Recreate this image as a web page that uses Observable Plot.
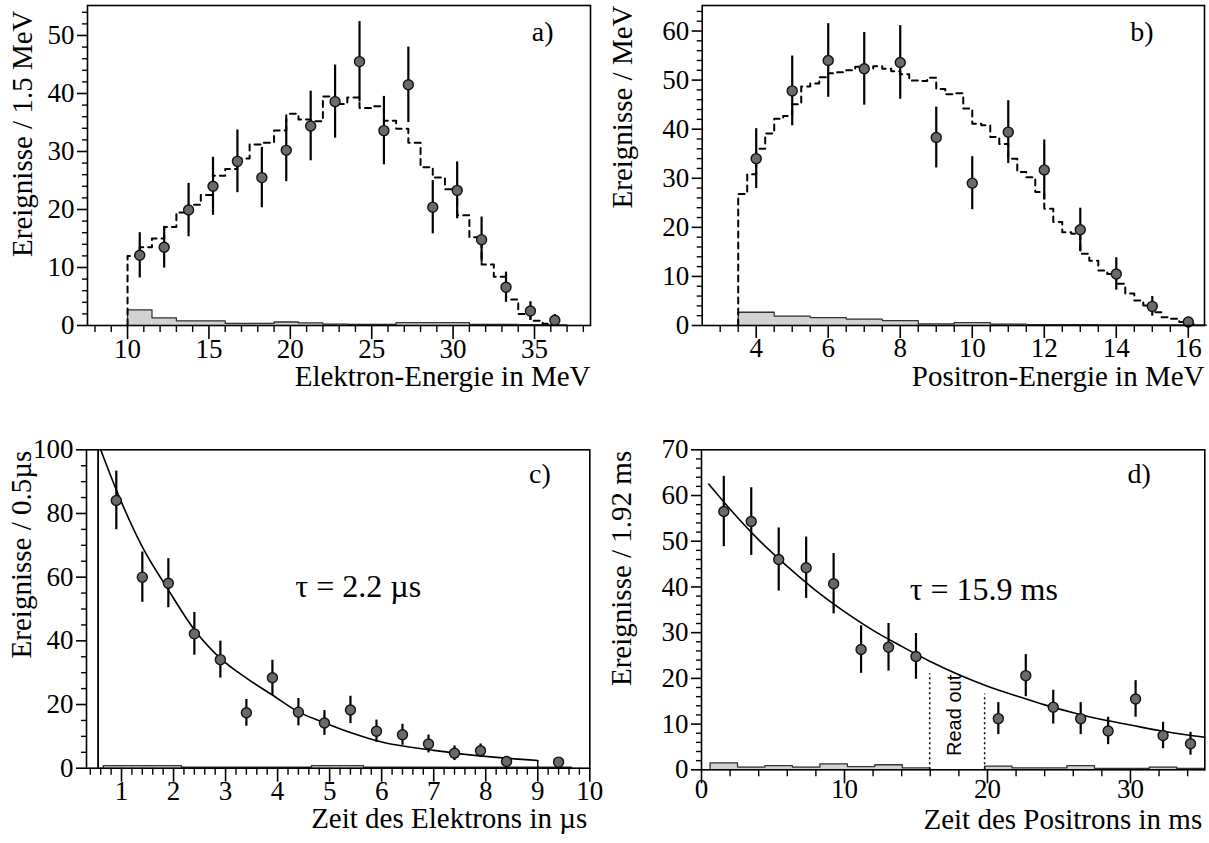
<!DOCTYPE html>
<html><head><meta charset="utf-8">
<script src="https://cdn.jsdelivr.net/npm/d3@7"></script>
<script src="https://cdn.jsdelivr.net/npm/@observablehq/plot@0.6"></script>
<style>
html,body{margin:0;padding:0;background:#fff;}
#root{position:relative;width:1209px;height:843px;overflow:hidden;background:#fff;}
#root svg{position:absolute;}
</style></head><body><div id="root"></div>
<script>
// ---------- Panel a: electron energy ----------
const aX = [10.75, 12.25, 13.75, 15.25, 16.75, 18.25, 19.75, 21.25, 22.75, 24.25, 25.75, 27.25, 28.75, 30.25, 31.75, 33.25, 34.75, 36.25];
const aY = [12.1, 13.5, 19.9, 24.0, 28.3, 25.5, 30.2, 34.4, 38.6, 45.5, 33.6, 41.5, 20.4, 23.3, 14.8, 6.6, 2.5, 0.9];
const aErr = [3.9, 3.6, 4.6, 5.0, 5.4, 5.2, 5.4, 6.0, 6.3, 6.9, 5.9, 6.5, 4.6, 4.9, 3.9, 2.6, 1.6, 1.0];
const aMcEdges = [10, 10.75, 11.5, 12.25, 13, 13.75, 14.5, 15.25, 16, 16.75, 17.5, 18.25, 19, 19.75, 20.5, 21.25, 22, 22.75, 23.5, 24.25, 25, 25.75, 26.5, 27.25, 28, 28.75, 29.5, 30.25, 31, 31.75, 32.5, 33.25, 34, 34.75, 35.5, 36.25];
const aMcVals = [12.0, 13.5, 15.0, 17.0, 19.5, 20.8, 22.5, 25.8, 27.0, 28.8, 31.2, 31.5, 33.6, 36.5, 35.5, 35.2, 39.5, 38.2, 39.3, 37.5, 37.8, 35.3, 33.9, 31.5, 27.3, 25.5, 23.5, 19.0, 15.2, 10.5, 8.4, 4.5, 2.0, 0.8, 0.3];
const aBkgEdges = [10, 11.5, 13, 14.5, 16, 17.5, 19, 20.5, 22, 23.5, 25, 26.5, 28, 29.5, 31, 32.5, 34, 35.5, 37];
const aBkgVals = [2.7, 1.3, 0.8, 0.8, 0.35, 0.35, 0.6, 0.45, 0.25, 0.2, 0.2, 0.5, 0.5, 0.5, 0.2, 0.2, 0.15, 0.1];
const aXTicks = [10, 15, 20, 25, 30, 35];
const aYTicks = [0, 10, 20, 30, 40, 50];

// ---------- Panel b: positron energy ----------
const bX = [4, 5, 6, 7, 8, 9, 10, 11, 12, 13, 14, 15, 16];
const bY = [34.0, 47.8, 54.0, 52.3, 53.6, 38.3, 29.0, 39.4, 31.7, 19.5, 10.5, 3.9, 0.7];
const bErr = [6.1, 7.1, 7.5, 7.4, 7.5, 6.2, 5.4, 6.4, 6.1, 4.4, 3.3, 2.0, 1.0];
const bMcEdges = [3.5, 3.75, 4, 4.25, 4.5, 4.75, 5, 5.25, 5.5, 5.75, 6, 6.25, 6.5, 6.75, 7, 7.25, 7.5, 7.75, 8, 8.25, 8.5, 8.75, 9, 9.25, 9.5, 9.75, 10, 10.25, 10.5, 10.75, 11, 11.25, 11.5, 11.75, 12, 12.25, 12.5, 12.75, 13, 13.25, 13.5, 13.75, 14, 14.25, 14.5, 14.75, 15, 15.25, 15.5, 15.75, 16, 16.25];
const bMcVals = [26.8, 30.8, 36.0, 39.1, 42.1, 42.7, 45.1, 48.7, 49.3, 50.6, 51.4, 51.6, 52.0, 52.7, 52.3, 52.8, 52.3, 51.8, 51.2, 49.9, 49.8, 50.5, 48.2, 47.1, 47.3, 44.2, 41.1, 40.8, 38.4, 37.0, 34.0, 31.3, 30.2, 27.2, 23.8, 21.1, 19.0, 18.7, 14.6, 13.2, 11.2, 10.5, 8.5, 6.5, 5.1, 4.1, 2.7, 1.7, 1.4, 0.7, 0.3];
const bBkgEdges = [3.5, 4.5, 5.5, 6.5, 7.5, 8.5, 9.5, 10.5, 11.5, 12.5, 13.5, 14.5, 15.5, 16.5];
const bBkgVals = [2.7, 1.9, 1.6, 1.3, 1.0, 0.35, 0.6, 0.3, 0.15, 0.15, 0.1, 0.1, 0.1];
const bXTicks = [4, 6, 8, 10, 12, 14, 16];
const bYTicks = [0, 10, 20, 30, 40, 50, 60];

// ---------- Panel c: electron time ----------
const cX = [0.9, 1.4, 1.9, 2.4, 2.9, 3.4, 3.9, 4.4, 4.9, 5.4, 5.9, 6.4, 6.9, 7.4, 7.9, 8.4, 9.4];
const cY = [84.1, 60.0, 58.1, 42.2, 34.1, 17.4, 28.4, 17.6, 14.2, 18.3, 11.6, 10.5, 7.6, 4.7, 5.5, 2.1, 1.9];
const cErr = [9.2, 7.9, 7.7, 6.7, 5.8, 4.2, 5.5, 4.3, 3.9, 4.3, 3.5, 3.3, 2.8, 2.3, 2.1, 1.4, 1.3];
const cFitX = [0.6, 0.9, 1.4, 1.9, 2.4, 2.9, 3.4, 3.9, 4.4, 4.9, 5.4, 6.0, 7.0, 8.0, 9.0];
const cFitY = [100, 87.4, 69.5, 56.0, 43.5, 34.5, 28.3, 23.0, 17.7, 14.3, 11.2, 8.2, 5.6, 3.7, 2.4];
const cFitEnd = [9.0];
const cCut = [0.55];
const cBkgEdges = [0.65, 2.15, 4.65, 5.65, 9.65];
const cBkgVals = [0.8, 0.3, 0.8, 0.3];
const cXTicks = [1, 2, 3, 4, 5, 6, 7, 8, 9, 10];
const cYTicks = [0, 20, 40, 60, 80, 100];
const cTau = "τ = 2.2 µs";

// ---------- Panel d: positron time ----------
const dX = [1.56, 3.48, 5.40, 7.32, 9.24, 11.16, 13.08, 15.00, 20.76, 22.68, 24.60, 26.52, 28.44, 30.36, 32.28, 34.20];
const dY = [56.5, 54.3, 46.0, 44.2, 40.7, 26.3, 26.8, 24.8, 11.2, 20.6, 13.7, 11.2, 8.5, 15.5, 7.5, 5.7];
const dErr = [7.7, 7.4, 6.9, 6.7, 6.6, 5.2, 5.2, 5.0, 3.5, 4.6, 3.7, 3.5, 3.0, 4.0, 2.9, 2.5];
const dFitX = [0.5, 2, 4, 6, 8, 10, 12, 14, 16, 18, 20, 22, 24, 26, 28, 30, 32, 34, 35.2];
const dFitY = [62.5, 57.0, 50.3, 44.5, 39.2, 34.6, 30.5, 27.0, 23.7, 20.8, 18.3, 16.2, 14.2, 12.5, 11.0, 9.8, 8.6, 7.6, 7.1];
const dBkgEdges1 = [0.6, 2.52, 4.44, 6.36, 8.28, 10.2, 12.12, 14.04, 15.96];
const dBkgVals1 = [1.5, 0.6, 0.9, 0.6, 1.3, 0.7, 1.1, 0.4];
const dBkgEdges2 = [19.8, 21.72, 23.64, 25.56, 27.48, 29.4, 31.32, 33.24, 35.16];
const dBkgVals2 = [0.8, 0.4, 0.4, 0.9, 0.3, 0.3, 0.6, 0.3];
const dReadoutX = [15.96, 19.8];
const dReadoutTop = [21, 16.6];
const dXTicks = [0, 10, 20, 30];
const dYTicks = [0, 10, 20, 30, 40, 50, 60, 70];
const dTau = "τ = 15.9 ms";
const dReadText = "Read out";

// annotation anchors (data units)
const cTauPos = [4.34, 57.1];
const dTauPos = [14.56, 39.4];
const dReadPos = [17.7, 11.9];

// ---------- helpers ----------
const STYLE = "font-family: 'Liberation Serif', 'Times New Roman', serif; font-size: 27px; color: #000; background: transparent; overflow: visible;";
const root = document.getElementById("root");
function minors(lo, hi, step, majors) {
  return d3.range(Math.round(lo / step), Math.round(hi / step) + 1)
    .map(k => +(k * step).toFixed(4))
    .filter(v => !majors.some(m => Math.abs(m - v) < 1e-6));
}
function steps(edges, vals, drop) {
  const p = [{x: edges[0], y: 0}];
  vals.forEach((v, i) => p.push({x: edges[i], y: v}));
  p.push({x: edges[vals.length], y: vals[vals.length - 1]});
  if (drop) p.push({x: edges[vals.length], y: 0});
  return p;
}
function bins(edges, vals) { return vals.map((v, i) => ({x1: edges[i], x2: edges[i + 1], y: v})); }
function pts(xs, ys, es) { return xs.map((x, i) => ({x, y: ys[i], e: es[i]})); }
function bkgMarks(edges, vals) {
  return [
    Plot.rectY(bins(edges, vals), {x1: "x1", x2: "x2", y: "y", fill: "#d2d2d2"}),
    Plot.line(steps(edges, vals, true), {x: "x", y: "y", curve: "step-after", stroke: "#333", strokeWidth: 1.3})
  ];
}
function dataMarks(data) {
  return [
    Plot.ruleX(data, {x: "x", y1: d => Math.max(0, d.y - d.e), y2: d => d.y + d.e, stroke: "#000", strokeWidth: 2.2}),
    Plot.dot(data, {x: "x", y: "y", r: 5, fill: "#6a6a6a", stroke: "#111", strokeWidth: 1.4})
  ];
}

function panel(p) {
  const marks = [
    ...p.marks,
    Plot.frame({stroke: "#000", strokeWidth: 1.6}),
    Plot.axisX({ticks: p.xMinor, tickSize: 7, tickFormat: () => "", strokeWidth: 1.4, label: null}),
    Plot.axisX({ticks: p.xMajor, tickSize: p.xMajorSize, tickPadding: p.xPad, strokeWidth: 1.6, label: null, tickFormat: d => String(d)}),
    Plot.axisY({ticks: p.yMinor, tickSize: 5, tickFormat: () => "", strokeWidth: 1.4, label: null}),
    Plot.axisY({ticks: p.yMajor, tickSize: 10, tickPadding: 3, strokeWidth: 1.6, label: null, tickFormat: d => String(d)}),
    Plot.text([p.xLabel], {text: d => d, frameAnchor: "bottom-right", textAnchor: "end", lineAnchor: "middle", dx: p.xLabelDx, dy: p.xLabelDy, fontSize: 29}),
    Plot.text([p.yLabel], {text: d => d, frameAnchor: "top-left", rotate: -90, textAnchor: "end", lineAnchor: "middle", dx: p.yLabelDx, dy: p.yLabelDy, fontSize: 29}),
    Plot.text([p.tag], {text: d => d, frameAnchor: "top-right", textAnchor: "end", lineAnchor: "middle", dx: p.tagDx, dy: p.tagDy, fontSize: 28})
  ];
  const svg = Plot.plot({
    width: p.width, height: p.height,
    marginTop: p.m[0], marginRight: p.m[1], marginBottom: p.m[2], marginLeft: p.m[3],
    x: {domain: p.xDomain}, y: {domain: p.yDomain},
    style: STYLE,
    marks
  });
  svg.style.left = p.left + "px";
  svg.style.top = p.top + "px";
  root.appendChild(svg);
}

// ---------- a ----------
panel({
  left: 0, top: 0, width: 600, height: 400, m: [5, 10, 75, 87],
  xDomain: [7.54, 38.44], yDomain: [0, 55.17],
  xMajor: aXTicks, xMinor: minors(8, 38, 1, aXTicks), xMajorSize: 14, xPad: -1,
  yMajor: aYTicks, yMinor: minors(2, 54, 2, aYTicks),
  xLabel: "Elektron-Energie in MeV", xLabelDx: 0, xLabelDy: 51,
  yLabel: "Ereignisse / 1.5 MeV", yLabelDx: -65, yLabelDy: 5,
  tag: "a)", tagDx: -37, tagDy: 27,
  marks: [
    ...bkgMarks(aBkgEdges, aBkgVals),
    Plot.line(steps(aMcEdges, aMcVals, false), {x: "x", y: "y", curve: "step-after", stroke: "#000", strokeWidth: 2, strokeDasharray: "6,5"}),
    ...dataMarks(pts(aX, aY, aErr))
  ]
});

// ---------- b ----------
panel({
  left: 600, top: 0, width: 609, height: 400, m: [5, 5, 75, 101.7],
  xDomain: [2.5, 16.45], yDomain: [0, 65.2],
  xMajor: bXTicks, xMinor: minors(3, 16, 0.5, bXTicks), xMajorSize: 13, xPad: -1,
  yMajor: bYTicks, yMinor: minors(2, 64, 2, bYTicks),
  xLabel: "Positron-Energie in MeV", xLabelDx: 0, xLabelDy: 51,
  yLabel: "Ereignisse / MeV", yLabelDx: -79, yLabelDy: 0,
  tag: "b)", tagDx: -51, tagDy: 27,
  marks: [
    ...bkgMarks(bBkgEdges, bBkgVals),
    Plot.line(steps(bMcEdges, bMcVals, false), {x: "x", y: "y", curve: "step-after", stroke: "#000", strokeWidth: 2, strokeDasharray: "6,5"}),
    ...dataMarks(pts(bX, bY, bErr))
  ]
});

// ---------- c ----------
panel({
  left: 0, top: 400, width: 600, height: 443, m: [49.3, 10.7, 75.3, 86],
  xDomain: [0.327, 10], yDomain: [0, 100],
  xMajor: cXTicks, xMinor: minors(0.4, 9.8, 0.2, cXTicks), xMajorSize: 14, xPad: -1,
  yMajor: cYTicks, yMinor: minors(5, 95, 5, cYTicks),
  xLabel: "Zeit des Elektrons in µs", xLabelDx: -2.6, xLabelDy: 51,
  yLabel: "Ereignisse / 0.5µs", yLabelDx: -65, yLabelDy: 1,
  tag: "c)", tagDx: -39, tagDy: 24,
  marks: [
    ...bkgMarks(cBkgEdges, cBkgVals),
    Plot.ruleX(cCut, {stroke: "#000", strokeWidth: 1.8}),
    Plot.line(cFitX.map((x, i) => ({x, y: cFitY[i]})), {x: "x", y: "y", curve: "monotone-x", stroke: "#000", strokeWidth: 1.6}),
    Plot.ruleX(cFitEnd, {y1: 0, y2: cFitY[cFitY.length - 1], stroke: "#000", strokeWidth: 1.4}),
    ...dataMarks(pts(cX, cY, cErr)),
    Plot.text([cTau], {text: d => d, x: cTauPos[0], y: cTauPos[1], textAnchor: "start", lineAnchor: "middle", fontSize: 32})
  ]
});

// ---------- d ----------
panel({
  left: 600, top: 400, width: 609, height: 443, m: [49.3, 4.7, 73.7, 101],
  xDomain: [0, 35.2], yDomain: [0, 70],
  xMajor: dXTicks, xMinor: minors(2, 34, 2, dXTicks), xMajorSize: 14, xPad: -5,
  yMajor: dYTicks, yMinor: minors(2, 68, 2, dYTicks),
  xLabel: "Zeit des Positrons in ms", xLabelDx: -2.6, xLabelDy: 50,
  yLabel: "Ereignisse / 1.92 ms", yLabelDx: -80, yLabelDy: 1,
  tag: "d)", tagDx: -54, tagDy: 24,
  marks: [
    ...bkgMarks(dBkgEdges1, dBkgVals1),
    ...bkgMarks(dBkgEdges2, dBkgVals2),
    Plot.ruleX(dReadoutX.map((x, i) => ({x, top: dReadoutTop[i]})), {x: "x", y1: 0, y2: "top", stroke: "#000", strokeWidth: 1.5, strokeDasharray: "2,3"}),
    Plot.line(dFitX.map((x, i) => ({x, y: dFitY[i]})), {x: "x", y: "y", curve: "monotone-x", stroke: "#000", strokeWidth: 1.6}),
    ...dataMarks(pts(dX, dY, dErr)),
    Plot.text([dTau], {text: d => d, x: dTauPos[0], y: dTauPos[1], textAnchor: "start", lineAnchor: "middle", fontSize: 32}),
    Plot.text([dReadText], {text: d => d, x: dReadPos[0], y: dReadPos[1], rotate: -90, textAnchor: "middle", lineAnchor: "middle", fontSize: 20, fontFamily: "'Liberation Sans', sans-serif"})
  ]
});
</script></body></html>
